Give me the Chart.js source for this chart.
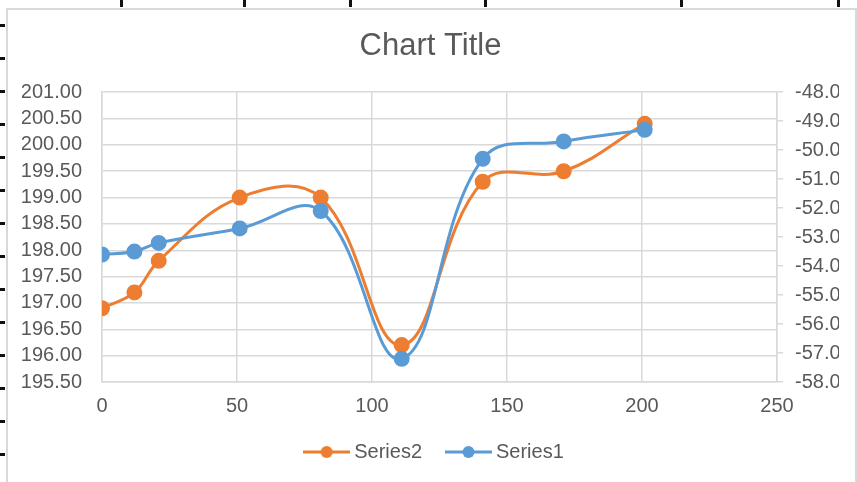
<!DOCTYPE html>
<html>
<head>
<meta charset="utf-8">
<script src="https://cdn.jsdelivr.net/npm/chart.js@4/dist/chart.umd.min.js"></script>
<style>
  html, body { margin: 0; padding: 0; width: 857px; height: 482px; overflow: hidden; background: #fff; }
  #frame { position: absolute; left: 6px; top: 8px; width: 851px; height: 490px; box-sizing: border-box;
           border: 2px solid #d9d9d9; background: #fff; }
  #wrap { position: absolute; left: 8px; top: 10px; width: 845px; height: 462px; }
  .tick { position: absolute; background: #111; }
</style>
</head>
<body>
<div id="frame"></div>
<div id="wrap"><canvas id="chart" width="845" height="462"></canvas></div>
<script>
// Sheet cell-boundary marks around the chart object
const colMarks = [120, 243, 349, 484, 680, 837];
const rowMarks = [24, 57, 90, 123, 156, 189, 222, 255, 288, 321, 354, 387, 420, 453];
colMarks.forEach(x => {
  const d = document.createElement('div');
  d.className = 'tick';
  d.style.cssText = `left:${x}px;top:0;width:3px;height:7px;`;
  document.body.appendChild(d);
});
rowMarks.forEach(y => {
  const d = document.createElement('div');
  d.className = 'tick';
  d.style.cssText = `left:0;top:${y}px;width:5px;height:3px;`;
  document.body.appendChild(d);
});

// Data
const xValues = [0, 12, 21, 51, 81, 111, 141, 171, 201];
const series2 = [196.9, 197.2, 197.8, 199.0, 199.0, 196.2, 199.3, 199.5, 200.4];
const series1 = [-53.6, -53.5, -53.2, -52.7, -52.1, -57.2, -50.3, -49.7, -49.3];
const xTicks = [0, 50, 100, 150, 200, 250];
const leftTicks = [195.5, 196, 196.5, 197, 197.5, 198, 198.5, 199, 199.5, 200, 200.5, 201];
const rightTicks = [-58, -57, -56, -55, -54, -53, -52, -51, -50, -49, -48];

const ORANGE = '#ED7D31';
const BLUE = '#5B9BD5';
const TEXT = '#595959';
const GRID = '#d9d9d9';
const FONT = "'Liberation Sans', Arial, sans-serif";
const SMOOTH = 0.4;

function pts(ys) { return xValues.map((x, i) => ({ x: x, y: ys[i] })); }

// Legend swatch: short line with a round marker
function swatch(color) {
  const c = document.createElement('canvas');
  c.width = 47; c.height = 14;
  const g = c.getContext('2d');
  g.strokeStyle = color; g.lineWidth = 3;
  g.beginPath(); g.moveTo(0, 7); g.lineTo(47, 7); g.stroke();
  g.fillStyle = color;
  g.beginPath(); g.arc(23.5, 7, 6, 0, Math.PI * 2); g.fill();
  return c;
}
const swatches = [swatch(BLUE), swatch(ORANGE)];

function fixTicks(values) {
  return scale => { scale.ticks = values.map(v => ({ value: v })); };
}

const chart = new Chart(document.getElementById('chart'), {
  type: 'scatter',
  data: {
    datasets: [
      {
        label: 'Series1', data: pts(series1), yAxisID: 'yRight',
        borderColor: BLUE, backgroundColor: BLUE, pointBorderColor: BLUE, pointBackgroundColor: BLUE,
        showLine: true, tension: SMOOTH, borderWidth: 3, pointRadius: 6.5, pointHoverRadius: 6.5
      },
      {
        label: 'Series2', data: pts(series2), yAxisID: 'yLeft',
        borderColor: ORANGE, backgroundColor: ORANGE, pointBorderColor: ORANGE, pointBackgroundColor: ORANGE,
        showLine: true, tension: SMOOTH, borderWidth: 3, pointRadius: 6.5, pointHoverRadius: 6.5
      }
    ]
  },
  options: {
    responsive: false,
    animation: false,
    devicePixelRatio: 1,
    layout: { padding: { left: 14, right: 14, top: 0, bottom: 0 } },
    plugins: {
      tooltip: { enabled: false },
      title: {
        display: true, text: 'Chart Title', color: TEXT,
        font: { family: FONT, size: 31, weight: 'normal' },
        padding: { top: 18, bottom: 27 }
      },
      legend: {
        position: 'bottom', reverse: true,
        labels: {
          color: TEXT, font: { family: FONT, size: 20 },
          usePointStyle: true, pointStyleWidth: 35, padding: 29,
          generateLabels(chart) {
            const items = Chart.defaults.plugins.legend.labels.generateLabels(chart);
            items.forEach(it => { it.pointStyle = swatches[it.datasetIndex]; });
            return items;
          }
        }
      }
    },
    scales: {
      x: {
        type: 'linear', position: 'bottom', min: 0, max: 250,
        afterBuildTicks: fixTicks(xTicks),
        afterFit: s => { s.height = 31; },
        grid: { color: GRID, lineWidth: 1.5, drawTicks: false },
        border: { color: GRID, width: 1.5 },
        ticks: { color: TEXT, font: { family: FONT, size: 20 }, padding: 12, maxRotation: 0,
                 autoSkip: false, callback: v => String(v) }
      },
      yLeft: {
        type: 'linear', position: 'left', min: 195.5, max: 201,
        afterBuildTicks: fixTicks(leftTicks),
        afterFit: s => { s.width = 80; },
        grid: { color: GRID, lineWidth: 1.5, drawTicks: false },
        border: { color: GRID, width: 1.5 },
        ticks: { color: TEXT, font: { family: FONT, size: 20 }, padding: 20,
                 autoSkip: false, callback: v => Number(v).toFixed(2) }
      },
      yRight: {
        type: 'linear', position: 'right', min: -58, max: -48,
        afterBuildTicks: fixTicks(rightTicks),
        afterFit: s => { s.width = 62; },
        grid: { color: GRID, lineWidth: 1.5, drawOnChartArea: false, drawTicks: true, tickLength: 6 },
        border: { color: GRID, width: 1.5 },
        ticks: { color: TEXT, font: { family: FONT, size: 20 }, padding: 12,
                 autoSkip: false, callback: v => Number(v).toFixed(1) }
      }
    }
  }
});

// Nudge the legend row so the swatch lines sit a little further right
const legendDraw = chart.legend.draw.bind(chart.legend);
chart.legend.draw = function (area) {
  const ctx = this.ctx;
  ctx.save();
  ctx.translate(6, 0);
  legendDraw(area);
  ctx.restore();
};
chart.draw();
</script>
</body>
</html>
